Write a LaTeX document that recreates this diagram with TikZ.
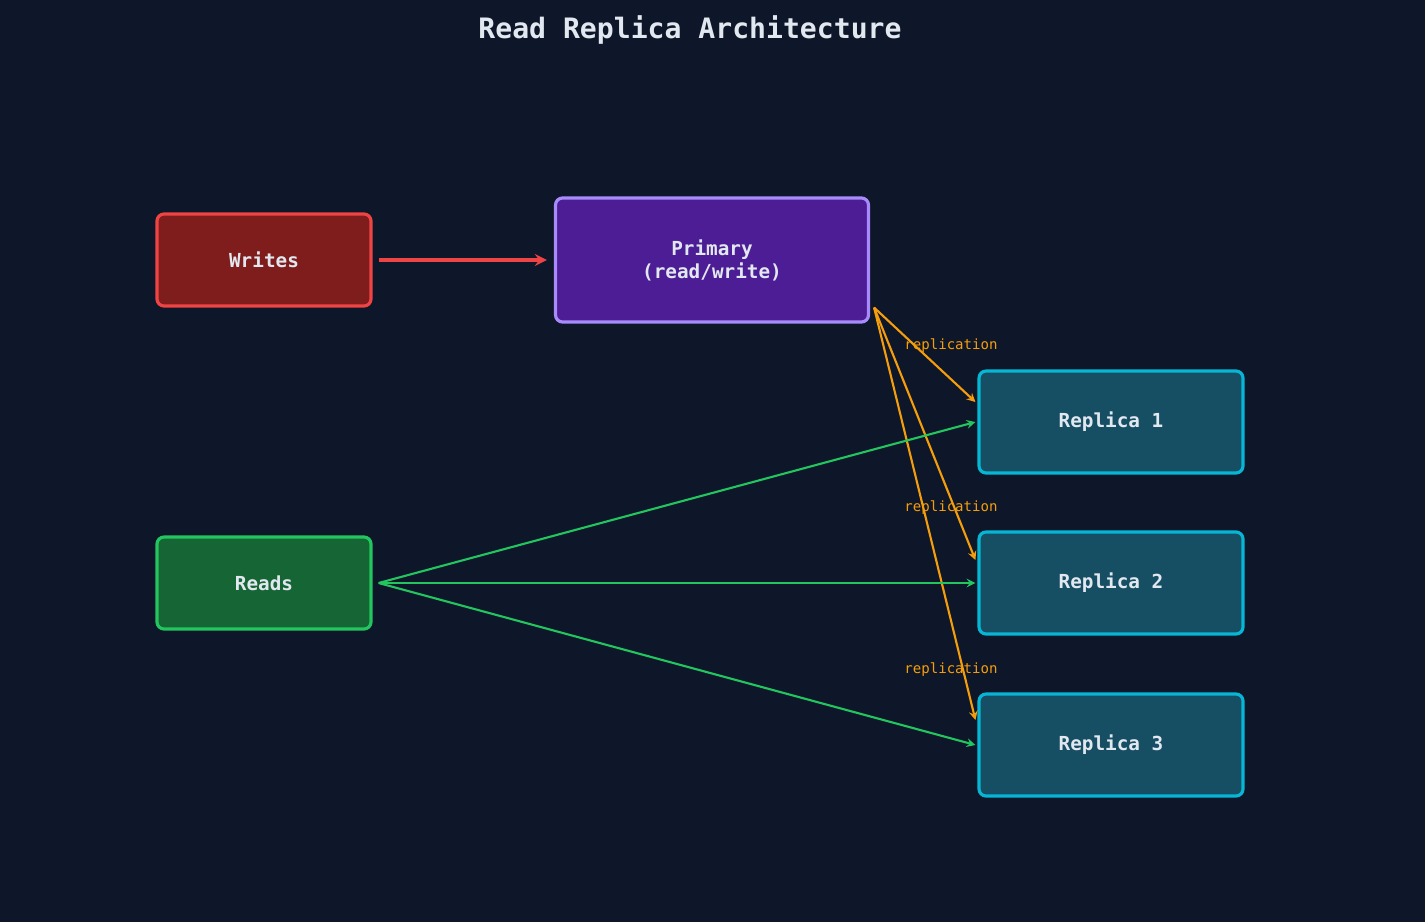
\documentclass[tikz,border=0pt]{standalone}
\usepackage{fontspec}
\setmonofont{DejaVu Sans Mono}
\usetikzlibrary{calc,positioning}
\definecolor{bgc}{HTML}{0E1629}
\definecolor{txtc}{HTML}{E2E8F0}
\definecolor{wrfill}{HTML}{7F1D1D}
\definecolor{wrline}{HTML}{EF4444}
\definecolor{prfill}{HTML}{4C1D95}
\definecolor{prline}{HTML}{A78BFA}
\definecolor{rpfill}{HTML}{164E63}
\definecolor{rpline}{HTML}{06B6D4}
\definecolor{rdfill}{HTML}{166534}
\definecolor{rdline}{HTML}{22C55E}
\definecolor{repc}{HTML}{F59E0B}
\tikzset{
    box/.style={draw, rounded corners=4pt, line width=1.8pt, align=center,
        text=txtc, font=\ttfamily\bfseries\fontsize{11}{13}\selectfont, inner sep=0pt},
    replica/.style={box, fill=rpfill, draw=rpline, minimum width=264\pxu, minimum height=102\pxu},
    green arrow/.style={draw=rdline, line width=1.2pt, -stealth},
    rep arrow/.style={draw=repc, line width=1.2pt, -stealth},
    replabel/.style={text=repc, font=\ttfamily\fontsize{8}{9}\selectfont}
}
\newlength{\pxu}\setlength{\pxu}{0.02cm}
\begin{document}
\begin{tikzpicture}[x=0.02cm, y=-0.02cm]
    \fill[bgc] (0,0) rectangle (1425,922);
    \useasboundingbox (0,0) rectangle (1425,922);

    \node[text=txtc, font=\ttfamily\bfseries\fontsize{16}{18}\selectfont] (title) at (690,30) {Read Replica Architecture};

    \node[box, fill=wrfill, draw=wrline, minimum width=214\pxu, minimum height=92\pxu] (writes) at (264,260) {Writes};
    \node[box, fill=prfill, draw=prline, minimum width=313\pxu, minimum height=124\pxu] (primary) at (712,260) {Primary\\(read/write)};
    \node[box, fill=rdfill, draw=rdline, minimum width=214\pxu, minimum height=92\pxu] (reads) at (264,583) {Reads};

    \node[replica] (rep1) at (1111,422) {Replica 1};
    \node[replica] (rep2) at (1111,583) {Replica 2};
    \node[replica] (rep3) at (1111,745) {Replica 3};

    % write path
    \draw[draw=wrline, line width=2pt, -stealth] ($(writes.east)+(6,0)$) -- ($(primary.west)+(-7,0)$);

    % replication
    \coordinate (src) at ($(primary.south east)+(4,-16)$);
    \foreach \r/\dy in {rep1/-20, rep2/-23, rep3/-25}
        \draw[rep arrow] (src) -- ($(\r.west)+(-2,\dy)$);
    \foreach \y in {346,508,670}
        \node[replabel] at (951,\y) {replication};

    % read paths
    \foreach \r in {rep1, rep2, rep3}
        \draw[green arrow] ($(reads.east)+(6,0)$) -- ($(\r.west)+(-2,0)$);
\end{tikzpicture}
\end{document}
